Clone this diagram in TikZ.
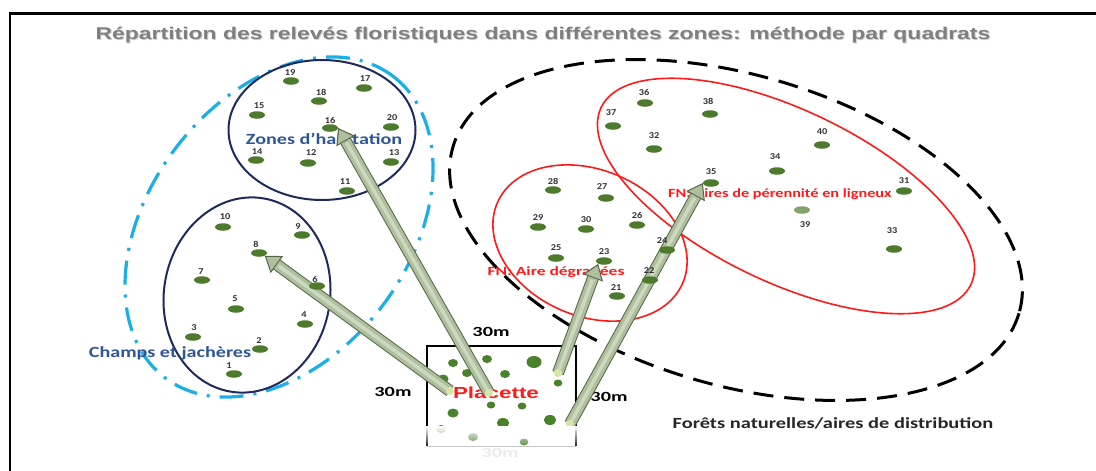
\documentclass[tikz,border=0pt]{standalone}
\usepackage{fontspec}
\setmainfont{Carlito}
\newfontfamily\arialfont{Liberation Sans}
\usetikzlibrary{arrows.meta,fadings,shapes.geometric}

\definecolor{cyanline}{HTML}{1AAFE6}
\definecolor{navyline}{HTML}{1F2A5A}
\definecolor{zonetext}{HTML}{2F5597}
\definecolor{fnred}{HTML}{FF1A1A}
\definecolor{dotgreen}{HTML}{4E7A2E}
\definecolor{numgray}{HTML}{333333}
\definecolor{tubeedge}{HTML}{56654A}
\definecolor{tubefill}{HTML}{AEBF9E}
\definecolor{tubeglow}{HTML}{CCD9C0}
\definecolor{tubecap}{HTML}{D6E6A6}
\definecolor{titlegray}{HTML}{7F7F7F}

% wide lettering: text stretched horizontally
\newcommand{\widetext}[2]{\scalebox{#1}[1]{#2}}

\tikzset{
  plotdot/.style={ellipse, fill=dotgreen, inner sep=0pt, minimum width=16pt, minimum height=7.5pt},
  plotnum/.style={font=\bfseries\fontsize{9}{10}\selectfont, text=numgray, inner sep=0pt},
  zonelabel/.style={font=\bfseries\fontsize{15.5}{17}\selectfont, text=zonetext, inner sep=0pt},
  fnlabel/.style={font=\bfseries\fontsize{12.5}{14}\selectfont, text=fnred, inner sep=0pt},
  dimlabel/.style={font=\bfseries\fontsize{14}{16}\selectfont, inner sep=0pt},
  cyanzone/.style={draw=cyanline, line width=3.2pt, dash pattern=on 24pt off 10pt on 3pt off 10pt},
  navyzone/.style={draw=navyline, line width=2pt},
  redzone/.style={draw=fnred, line width=1.6pt},
  forestzone/.style={draw=black, line width=3pt, dash pattern=on 20pt off 11pt},
  tubeback/.style={line width=12pt, draw=tubeedge,
    -{Triangle[width=21pt,length=15pt,fill=tubefill,line width=1pt]}},
  tubefront/.style={line width=10pt, draw=tubefill, shorten >=15pt},
  tubelight/.style={line width=3.5pt, draw=tubeglow, shorten >=17pt}
}

\begin{document}
\begin{tikzpicture}[x=1pt,y=-1pt]
\useasboundingbox (0,0) rectangle (1096,471);

% frame
\draw[line width=2.5pt] (1096,13.5) -- (10,13.5) -- (10,471);

% title with soft shadow
\node[font=\arialfont\bfseries\fontsize{17}{20}\selectfont, text=black!18, inner sep=0pt] (titleshadow) at (544,36)
  {\widetext{1.35}{Répartition des relevés floristiques dans différentes zones: méthode par quadrats}};
\node[font=\arialfont\bfseries\fontsize{17}{20}\selectfont, text=titlegray, inner sep=0pt] (title) at (543,35)
  {\widetext{1.35}{Répartition des relevés floristiques dans différentes zones: méthode par quadrats}};

% zones
\draw[cyanzone, rotate around={53:(279,227)}] (279,227) ellipse [x radius=189, y radius=130];
\draw[navyzone] (322,130) ellipse [x radius=93.5, y radius=70];
\draw[navyzone, rotate around={-10:(247,295)}] (247,295) ellipse [x radius=83, y radius=98];
\draw[forestzone, rotate around={-16.4:(736,230)}] (736,230) ellipse [x radius=295, y radius=155];
\draw[redzone, rotate around={-25.6:(786,196)}] (786,196) ellipse [x radius=205, y radius=86];
\draw[redzone, rotate around={-23.5:(590,243)}] (590,243) ellipse [x radius=101, y radius=73];

% sample plot (placette)
\draw[line width=1.8pt] (427,446) -- (427,346) -- (576,346) -- (576,446);
\draw[black!25, line width=1pt] (427,446) -- (576,446);
\foreach \i/\x/\y/\r in {1/453/363/4, 2/487/359/4, 3/534/362/6, 4/467/373/4, 5/505/374/4,
    6/443/379/4.5, 7/558/383/3.5, 8/491/405/3.5, 9/522/406/3.5, 10/453/413/4.5,
    11/503/423/5, 12/550/420/5, 13/441/429/4, 14/473/437/4, 15/524/442/3.5}
  \node[ellipse, fill=dotgreen!95!green, inner sep=0pt, minimum width=2.5*\r pt, minimum height=2*\r pt] (p\i) at (\x,\y) {};

% releves lying under the arrows
\foreach \n/\x/\y/\lx/\ly in {1/234/374/229/366, 2/260/349/259/341, 3/193/337/194/328,
    4/305/324/304/315, 5/236/309/235/299, 7/202/280/201/272, 8/259/253/256/244,
    9/302/235/298/227, 10/223/227/225/217, 11/347/191/345/182, 12/308/163/311/152.5,
    13/391/162/394/153, 14/256/160/257/151.5, 15/257/115/259/106, 16/330/128/330/120,
    17/364/88/365/79, 18/319/101/321/92, 19/291/81/290/73, 20/391/127/392/118,
    21/617/296/616/288, 23/604/261/604/252, 25/556/258/556/248, 26/637/225/637/215,
    27/606/198/602/187, 28/553/190/553/181, 29/538/227/538/218, 30/586/229/586/220,
    31/904/191/904/181, 32/654/149/654/136, 33/894/249/892/231, 34/777/171/775/157,
    35/711/183/711/172, 36/645/103/644/92, 37/613/126/611/113, 38/710/114/708/101,
    40/822/145/822/132}
{
  \node[plotdot] (d\n) at (\x,\y) {};
  \node[plotnum] (n\n) at (\lx,\ly) {\widetext{1.15}{\n}};
}
\node[plotdot, fill=dotgreen!70] (d39) at (802,210) {};
\node[plotnum] (n39) at (805,225) {\widetext{1.15}{39}};

% zone labels
\node[zonelabel] (zh) at (324,139) {\widetext{1.3}{Zones d’habitation}};
\node[zonelabel] (cj) at (170,353) {\widetext{1.3}{Champs et jachères}};
\node[fnlabel] (fn1) at (556,272) {\widetext{1.4}{FN: Aire dégradées}};
\node[fnlabel, anchor=west] (fn2) at (668,194) {\widetext{1.3}{FN: Aires de pérennité en ligneux}};
\node[font=\arialfont\bfseries\fontsize{16}{18}\selectfont, text=fnred, inner sep=0pt] (pl) at (496,393)
  {\widetext{1.4}{Placette}};
\node[dimlabel] (w1) at (491,332) {\widetext{1.45}{30m}};
\node[dimlabel] (w2) at (393,392) {\widetext{1.45}{30m}};
\node[dimlabel] (w3) at (609,397) {\widetext{1.45}{30m}};
\node[dimlabel, text=black!8] (w4) at (500,453) {\widetext{1.45}{30m}};
\node[font=\bfseries\fontsize{15.5}{18}\selectfont, text=black!85, inner sep=0pt] (fo) at (833,423)
  {\widetext{1.32}{Forêts naturelles/aires de distribution}};

% arrows from the plot to the releves
\coordinate (t8) at (450,391);
\coordinate (t16) at (489,393);
\coordinate (t23) at (558,373);
\coordinate (t35) at (570,424);
\foreach \t/\h in {t8/d8.south east, t16/d16.east, t23/d23.south west, t35/d35.west}
{
  \draw[tubeback] (\t) -- (\h);
  \draw[tubefront] (\t) -- (\h);
  \draw[tubelight] (\t) -- (\h);
  \fill[tubecap] (\t) circle (4pt);
}

% releves lying on top of the arrows
\foreach \n/\x/\y/\lx/\ly in {6/317/286/315/279, 22/650/280/649/271, 24/667/250/662/241}
{
  \node[plotdot] (d\n) at (\x,\y) {};
  \node[plotnum] (n\n) at (\lx,\ly) {\widetext{1.15}{\n}};
}

% the lower edge of the plot fades out
\fill[white, path fading=south] (420,426) rectangle (584,449);
\end{tikzpicture}
\end{document}
